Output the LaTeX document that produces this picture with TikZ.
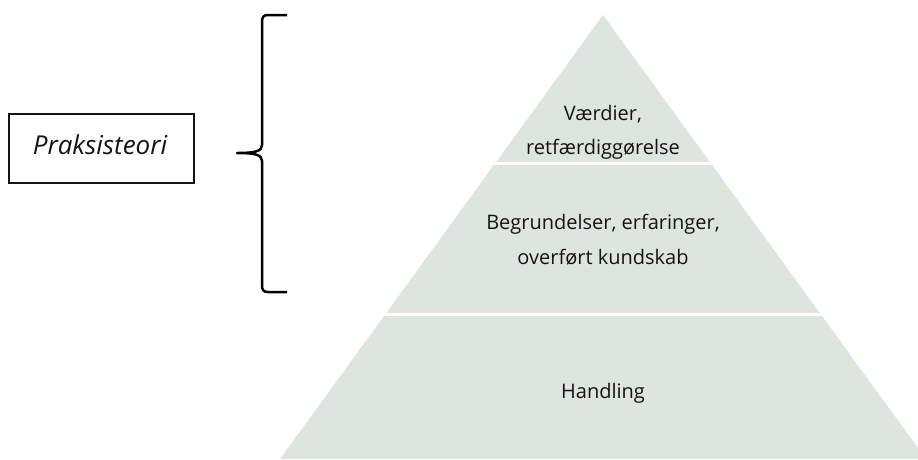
\documentclass[tikz,border=0pt]{standalone}
\usepackage{fontspec}
\setmainfont{Open Sans}
\definecolor{pyrfill}{RGB}{222,229,223}
\definecolor{inkcol}{RGB}{20,20,20}
\tikzset{
  pyrband/.style={fill=pyrfill, draw=none},
  sepline/.style={draw=white, line width=3pt},
  pyrtext/.style={anchor=base, inner sep=0pt, text=inkcol, font=\fontsize{20}{24}\selectfont},
  bracepath/.style={draw=black, line width=2.5pt, line join=round},
  labelbox/.style={draw=inkcol, line width=1.8pt, minimum width=185pt, minimum height=69pt, inner sep=0pt},
}
\begin{document}
\begin{tikzpicture}[x=1pt,y=-1pt]
\useasboundingbox (0,0) rectangle (918,459);
% pyramid
\coordinate (apex) at (603,15);
\coordinate (bl) at (280,459);
\coordinate (br) at (926,459);
\fill[pyrband] (apex) -- (br) -- (bl) -- cycle;
\coordinate (s1l) at (490,163);
\coordinate (s1r) at (716,163);
\coordinate (s2l) at (380,314);
\coordinate (s2r) at (826,314);
\draw[sepline] (s1l) -- (s1r);
\draw[sepline] (s2l) -- (s2r);
% texts
\node[pyrtext] (t1a) at (603,120) {Værdier,};
\node[pyrtext] (t1b) at (603,154) {retfærdiggørelse};
\node[pyrtext] (t2a) at (603,229) {Begrundelser, erfaringer,};
\node[pyrtext] (t2b) at (603,264) {overført kundskab};
\node[pyrtext] (t3) at (603,398) {Handling};
% label box
\node[labelbox] (box) at (101.5,148.5) {};
\node[anchor=base, inner sep=0pt, text=inkcol, font=\fontsize{26}{30}\selectfont\itshape] (praks) at (100,154.5) {Praksisteori};
% brace
\coordinate (btop) at (287,15);
\coordinate (btip) at (237,153);
\coordinate (bbot) at (287,292);
\draw[bracepath] (btop) -- (268,15) .. controls (263.5,15) and (262,17) .. (262,22) -- (262,145)
  .. controls (262,151) and (256,153) .. (btip)
  .. controls (256,153) and (262,155) .. (262,161) -- (262,285)
  .. controls (262,290) and (263.5,292) .. (268,292) -- (bbot);
\end{tikzpicture}
\end{document}
